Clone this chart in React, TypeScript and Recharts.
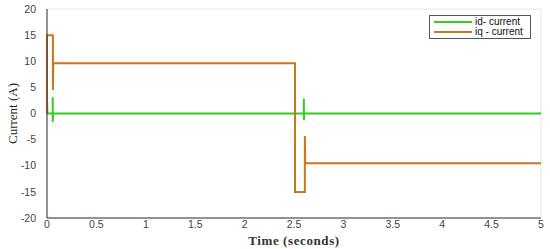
import {
  LineChart,
  Line,
  XAxis,
  YAxis,
  CartesianGrid,
  Label,
} from "recharts";

// sampled from the plot (time in seconds, current in A)
const idTime = [0, 0, 0.004, 0.058, 0.058, 0.058, 0.062, 2.6, 2.6, 2.6, 2.604, 5];
const idCurrent = [0, 3.1, 0, 0, 3.1, -1.6, 0, 0, 2.8, -1.3, 0, 0];

const iqTime = [0, 0, 0.06, 0.06, 0.064, 2.51, 2.51, 2.61, 2.61, 2.614, 5];
const iqCurrent = [0, 15, 15, 4.5, 9.6, 9.6, -15, -15, -4.3, -9.5, -9.5];

const xTicks = [0, 0.5, 1, 1.5, 2, 2.5, 3, 3.5, 4, 4.5, 5];
const yTicks = [-20, -15, -10, -5, 0, 5, 10, 15, 20];

const GREEN = "#33cc22";
const ORANGE = "#c8781e";

const idData = idTime.map((t, i) => ({ t, v: idCurrent[i] }));
const iqData = iqTime.map((t, i) => ({ t, v: iqCurrent[i] }));

const tickStyle = { fontSize: 10.5, fill: "#444", fontFamily: "Liberation Sans, Arial, sans-serif" };

function LegendBox() {
  const items = [
    { name: "id- current", color: GREEN },
    { name: "iq - current", color: ORANGE },
  ];
  return (
    <div
      style={{
        position: "absolute",
        left: 429,
        top: 15,
        border: "1px solid #555",
        background: "#fff",
        padding: "1px 4px",
        width: 92,
        fontFamily: "Liberation Sans, Arial, sans-serif",
        fontSize: 10,
        lineHeight: "10px",
        color: "#111",
      }}
    >
      {items.map((it) => (
        <div key={it.name} style={{ display: "flex", alignItems: "center" }}>
          <span
            style={{
              display: "inline-block",
              width: 38,
              height: 2,
              background: it.color,
              marginRight: 3,
            }}
          />
          {it.name}
        </div>
      ))}
    </div>
  );
}

export default function App() {
  return (
    <div style={{ position: "absolute", left: 0, top: 0, width: 550, height: 249, background: "#fff" }}>
      <LineChart
        width={550}
        height={249}
        margin={{ top: 9, right: 9, left: 17, bottom: 0 }}
      >
        <CartesianGrid stroke="#e6e6e6" strokeWidth={1} />
        <XAxis
          xAxisId="b"
          type="number"
          dataKey="t"
          domain={[0, 5]}
          ticks={xTicks}
          tick={tickStyle}
          tickLine={false}
          axisLine={{ stroke: "#333" }}
          height={31}
          tickMargin={0}
          tickSize={3}
          allowDuplicatedCategory={false}
        >
          <Label
            value="Time (seconds)"
            position="insideBottom"
            offset={4}
            style={{ fontFamily: "Liberation Serif, serif", fontSize: 13, fontWeight: "bold", fill: "#333", letterSpacing: 0.6 }}
          />
        </XAxis>
        <XAxis
          xAxisId="top"
          orientation="top"
          type="number"
          domain={[0, 5]}
          ticks={xTicks}
          tick={false}
          tickLine={false}
          axisLine={{ stroke: "#333" }}
          height={0}
        />
        <YAxis
          yAxisId="l"
          type="number"
          domain={[-20, 20]}
          ticks={yTicks}
          tick={tickStyle}
          tickLine={false}
          axisLine={{ stroke: "#333" }}
          width={30}
          tickMargin={5}
        >
          <Label
            value="Current (A)"
            angle={-90}
            position="insideLeft"
            offset={-5}
            style={{ fontFamily: "Liberation Serif, serif", fontSize: 13, fill: "#222", textAnchor: "middle" }}
          />
        </YAxis>
        <YAxis
          yAxisId="r"
          orientation="right"
          type="number"
          domain={[-20, 20]}
          ticks={yTicks}
          tick={false}
          tickLine={false}
          axisLine={{ stroke: "#333" }}
          width={0}
        />
        <Line
          xAxisId="b"
          yAxisId="l"
          data={idData}
          dataKey="v"
          type="linear"
          stroke={GREEN}
          strokeWidth={2}
          dot={false}
          isAnimationActive={false}
        />
        <Line
          xAxisId="b"
          yAxisId="l"
          data={iqData}
          dataKey="v"
          type="linear"
          stroke={ORANGE}
          strokeWidth={2}
          dot={false}
          isAnimationActive={false}
        />
      </LineChart>
      <LegendBox />
    </div>
  );
}
